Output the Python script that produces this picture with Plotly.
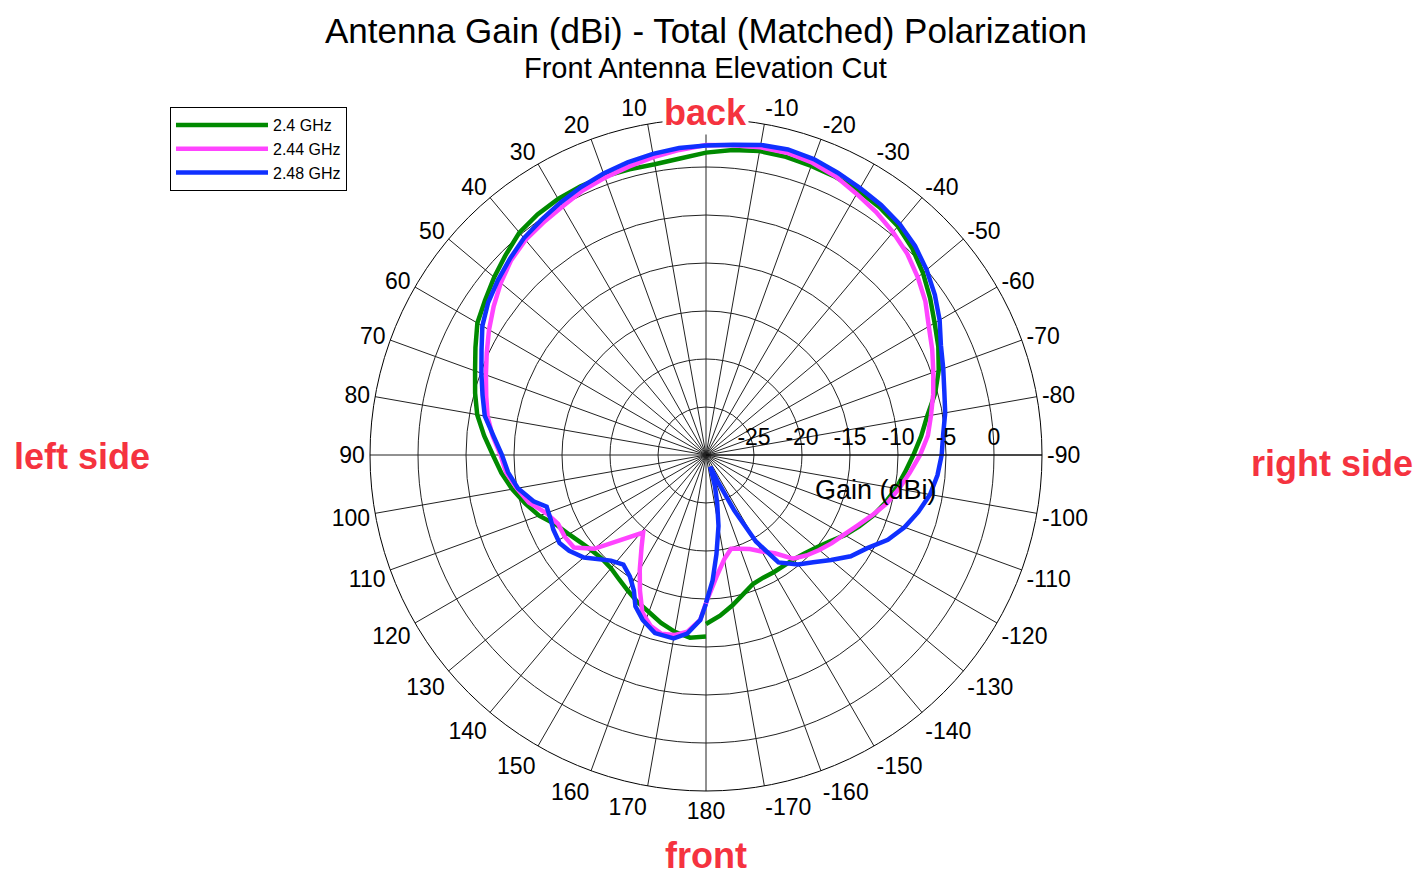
import plotly.graph_objects as go

# ---------------- data (gain in dBi vs elevation angle in degrees) ----------------
theta_24 = [-180, -175, -170, -165, -160, -155, -150, -145, -140, -135, -130, -125, -120,
            -115, -110, -105, -100, -95, -90, -85, -80, -75, -70, -65, -60, -55, -50, -45,
            -40, -35, -30, -25, -20, -15, -10, -5, 0, 5, 10, 15, 20, 25, 30, 35, 40, 45,
            50, 55, 60, 65, 70, 75, 80, 85, 90, 95, 100, 105, 110, 115, 120, 125, 130, 135,
            140, 145, 150, 155, 160, 165, 170, 175, 180]
gain_24 = [-12.4, -13.2, -14.1, -15.0, -15.7, -15.9, -15.9, -15.9, -15.8, -15.5, -15.0, -14.3, -13.3,
           -12.4, -11.5, -10.7, -9.9, -9.2, -8.4, -7.5, -6.6, -5.3, -4.2, -3.3, -2.5, -1.5, -0.5, 0.4,
           1.1, 1.5, 1.8, 1.95, 2.05, 2.15, 2.15, 1.9, 1.5, 1.0, 0.75, 0.8, 0.9, 0.9, 0.8, 0.6, 0.25, -0.5,
           -1.2, -1.9, -2.5, -3.5, -4.4, -5.1, -5.8, -6.8, -7.8, -8.6, -9.5, -10.5, -11.5, -12.8, -13.5, -14.1, -14.5, -14.7,
           -14.6, -14.2, -13.7, -13.1, -12.6, -11.9, -11.3, -10.9, -11.1]

theta_244 = [-180, -175, -170, -165, -160, -155, -150, -145, -140, -135, -130, -125, -120,
             -115, -110, -105, -100, -95, -90, -85, -80, -75, -70, -65, -60, -55, -50, -45,
             -40, -35, -30, -25, -20, -15, -10, -5, 0, 5, 10, 15, 20, 25, 30, 35, 40, 45,
             50, 55, 60, 65, 70, 75, 80, 85, 90, 95, 100, 105, 110, 115, 120, 125, 130, 135,
             141, 145, 150, 154, 158, 162, 166, 170, 174, 178, 180]
gain_244 = [-14.6, -17.3, -19.0, -19.9, -19.6, -19.2, -18.4, -17.5, -15.9, -15.2, -14.6, -14.0, -13.4,
            -12.6, -11.6, -10.5, -9.6, -8.7, -7.7, -6.8, -6.2, -5.5, -4.8, -4.0, -3.2, -2.1, -1.2, -0.35,
            0.3, 0.9, 1.4, 2.0, 2.4, 2.6, 2.55, 2.4, 2.3, 1.9, 1.5, 1.1, 0.75, 0.4, -0.1, -0.45, -0.75, -1.3,
            -2.1, -3.0, -3.9, -4.8, -5.6, -6.3, -6.9, -7.7, -8.6, -9.1, -10.0, -10.9, -12.3, -13.0, -13.0, -13.2, -14.8, -17.5,
            -19.6, -18.3, -16.2, -14.3, -12.3, -11.3, -10.8, -10.95, -11.5, -12.8, -14.6]

theta_248 = [-180, -177, -174, -170, -167, -164, -160, -156, -153, -150, -146, -140, -135, -130,
             -125, -120, -115, -110, -105, -100, -95, -90, -85, -80, -75, -70, -65, -60, -55, -50,
             -45, -40, -35, -30, -25, -20, -15, -10, -5, 0, 5, 10, 15, 20, 25, 30, 35, 40, 45,
             50, 55, 60, 65, 70, 75, 80, 85, 90, 95, 100, 105, 108, 112, 116, 121, 125, 130, 138,
             143, 148, 152, 155, 159, 164, 170, 174, 178, 180]
gain_248 = [-14.6, -16.9, -19.6, -22.5, -24.8, -26.6, -28.7, -27.0, -23.5, -19.6, -16.5, -15.1, -14.2, -13.0,
            -11.6, -10.6, -9.1, -8.0, -7.1, -6.3, -5.8, -5.45, -5.2, -4.7, -4.3, -3.7, -3.0, -1.9, -0.9, 0.0,
            0.8, 1.4, 1.8, 2.1, 2.45, 2.8, 2.95, 2.8, 2.45, 2.25, 2.1, 1.85, 1.55, 1.2, 0.8, 0.35, -0.1, -0.5, -1.1,
            -1.7, -2.3, -3.1, -4.2, -5.1, -5.9, -6.6, -7.8, -8.75, -9.3, -10.1, -11.4, -12.55, -12.5, -12.3, -12.2, -12.6, -13.4, -15.2,
            -15.7, -15.05, -14.0, -12.6, -11.6, -10.7, -10.6, -11.3, -12.8, -14.5]

series_names = ["2.4 GHz", "2.44 GHz", "2.48 GHz"]
series_colors = ["#008a00", "#ff44ff", "#1030ff"]

radial_ticks = [-25, -20, -15, -10, -5, 0]
angle_ticks = list(range(0, 360, 10))
angle_text = ["" if a == 0 else str(a if a <= 180 else a - 360) for a in angle_ticks]

FONT = "Liberation Sans, Arial, sans-serif"
RED = "#f5333f"

fig = go.Figure()
for th, g, name, col in zip([theta_24, theta_244, theta_248],
                            [gain_24, gain_244, gain_248],
                            series_names, series_colors):
    fig.add_trace(go.Scatterpolar(theta=th, r=g, mode="lines", name=name,
                                  line=dict(color=col, width=4.5)))


def label(text, x, y, size, color="black", bg=None):
    d = dict(text=text, x=x, y=y, xref="paper", yref="paper", showarrow=False,
             xanchor="center", yanchor="middle",
             font=dict(size=size, family=FONT, color=color))
    if bg:
        d["bgcolor"] = bg
    return d


fig.update_layout(
    width=1421, height=877,
    margin=dict(l=0, r=0, t=0, b=0),
    paper_bgcolor="white",
    font=dict(family=FONT, color="black"),
    showlegend=True,
    legend=dict(x=0.114, y=0.8871, xanchor="left", yanchor="top",
                bordercolor="black", borderwidth=1, bgcolor="white",
                font=dict(size=16, family=FONT), itemwidth=92,
                tracegroupgap=0),
    polar=dict(
        domain=dict(x=[0.25475, 0.72766], y=[0.10718, 0.87343]),
        bgcolor="white",
        radialaxis=dict(range=[-30, 5], tickmode="array", tickvals=radial_ticks,
                        ticktext=[str(v) for v in radial_ticks],
                        angle=0, side="counterclockwise",
                        showline=True, linecolor="black", linewidth=1,
                        gridcolor="#222", gridwidth=1, ticks="",
                        tickfont=dict(size=23, family=FONT, color="black")),
        angularaxis=dict(rotation=90, direction="counterclockwise", thetaunit="degrees",
                         tickmode="array", tickvals=angle_ticks, ticktext=angle_text,
                         showline=True, linecolor="black", linewidth=1,
                         gridcolor="#222", gridwidth=1, ticks="",
                         tickfont=dict(size=23, family=FONT, color="black")),
    ),
    annotations=[
        label("Antenna Gain (dBi) - Total (Matched) Polarization", 0.4912, 0.9738, 35),
        label("Front Antenna Elevation Cut", 0.4912, 0.9316, 29),
        label("Gain (dBi)", 0.61084, 0.4504, 27),
        label("<b>back</b>", 0.4912, 0.8814, 36, RED, "white"),
        label("<b>front</b>", 0.4912, 0.0342, 36, RED),
        label("<b>left side</b>", 0.05208, 0.48803, 36, RED),
        label("<b>right side</b>", 0.93174, 0.48005, 36, RED),
    ],
)

fig.write_html("out.html")
